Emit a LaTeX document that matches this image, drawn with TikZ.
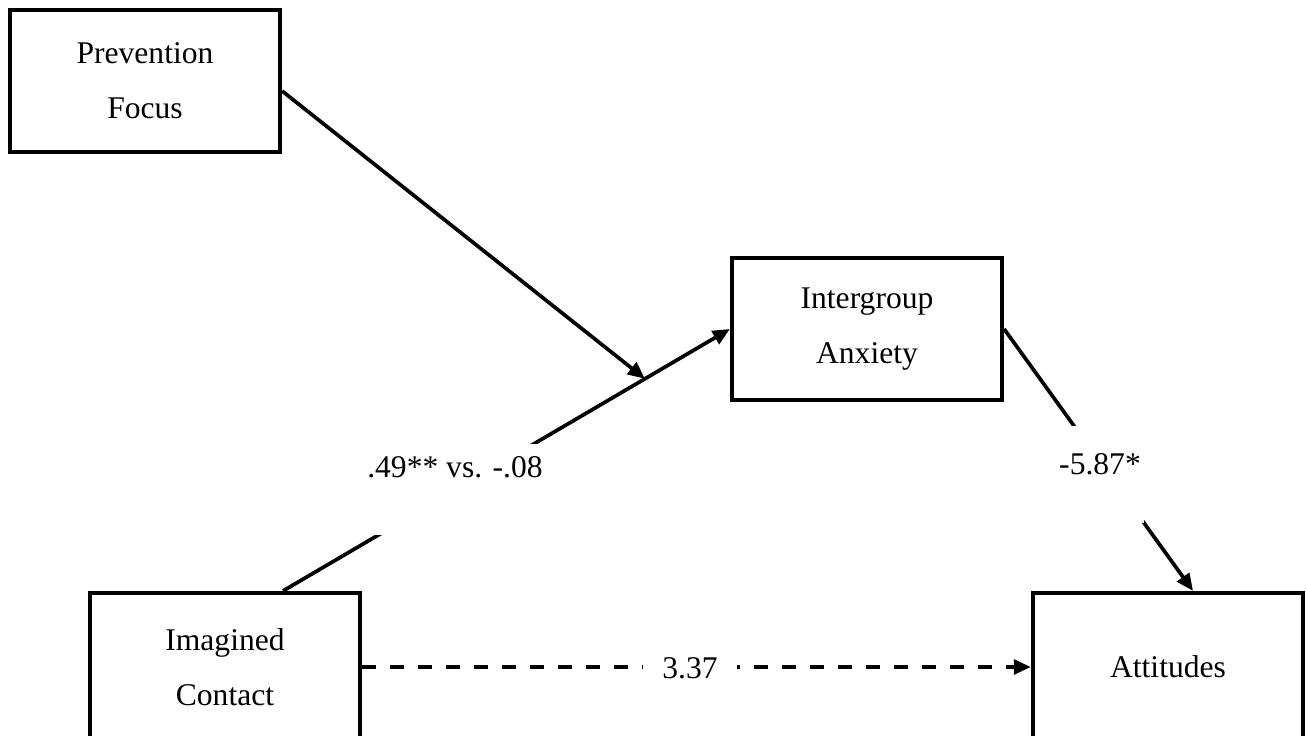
\documentclass[tikz,border=0pt]{standalone}
\usepackage{fontspec}
\setmainfont{Liberation Serif}
\usetikzlibrary{calc,arrows.meta}
\def\pxl{0.38pt}
\tikzset{
	varbox/.style={draw, line width=1.6pt, align=center, minimum width=270*\pxl, minimum height=142*\pxl, inner sep=0pt, font=\fontsize{12}{21}\selectfont},
	path/.style={line width=1.4pt, -{Triangle[length=6.5pt,width=5.6pt]}},
	coef/.style={fill=white, inner sep=0pt, font=\fontsize{12}{14}\selectfont}
}

\begin{document}
\begin{tikzpicture}[x=0.38pt, y=-0.38pt]
			%%%%% START %%%%%
			
			\useasboundingbox (0, 0) rectangle (1306, 735);
			
			\node[varbox] (pf) at (145, 81) {Prevention\\Focus};
			\node[varbox] (ia) at (867, 329) {Intergroup\\Anxiety};
			\node[varbox, minimum height=148*\pxl] (ic) at (225, 667) {Imagined\\Contact};
			\node[varbox, minimum height=148*\pxl] (att) at (1168, 667) {Attitudes};
			
			\coordinate (icout) at ([xshift=58*\pxl]ic.north);
			\coordinate (attin) at ([xshift=25*\pxl]att.north);
			\coordinate (mod) at ($(icout)!0.81!(ia.west)$);
			
			\draw[path] (icout) -- (ia.west);
			\draw[path] ([yshift=-10*\pxl]pf.east) -- (mod);
			\draw[path] (ia.east) -- (attin);
			\draw[path, dash pattern=on 14*\pxl off 14*\pxl] (ic.east) -- (att.west);
			
			\node[coef, anchor=base, text height=33*\pxl, text depth=58*\pxl] (c1) at (455, 477) {.49** vs. -.08};
			\node[coef, anchor=base, inner xsep=3*\pxl, text height=48*\pxl, text depth=49*\pxl] (c2) at (1100, 474) {-5.87*};
			\node[coef, anchor=base, inner xsep=19*\pxl, inner ysep=2pt] (c3) at (690, 678) {3.37};
			
			%%%%% END %%%%%
		\end{tikzpicture}
\end{document}
